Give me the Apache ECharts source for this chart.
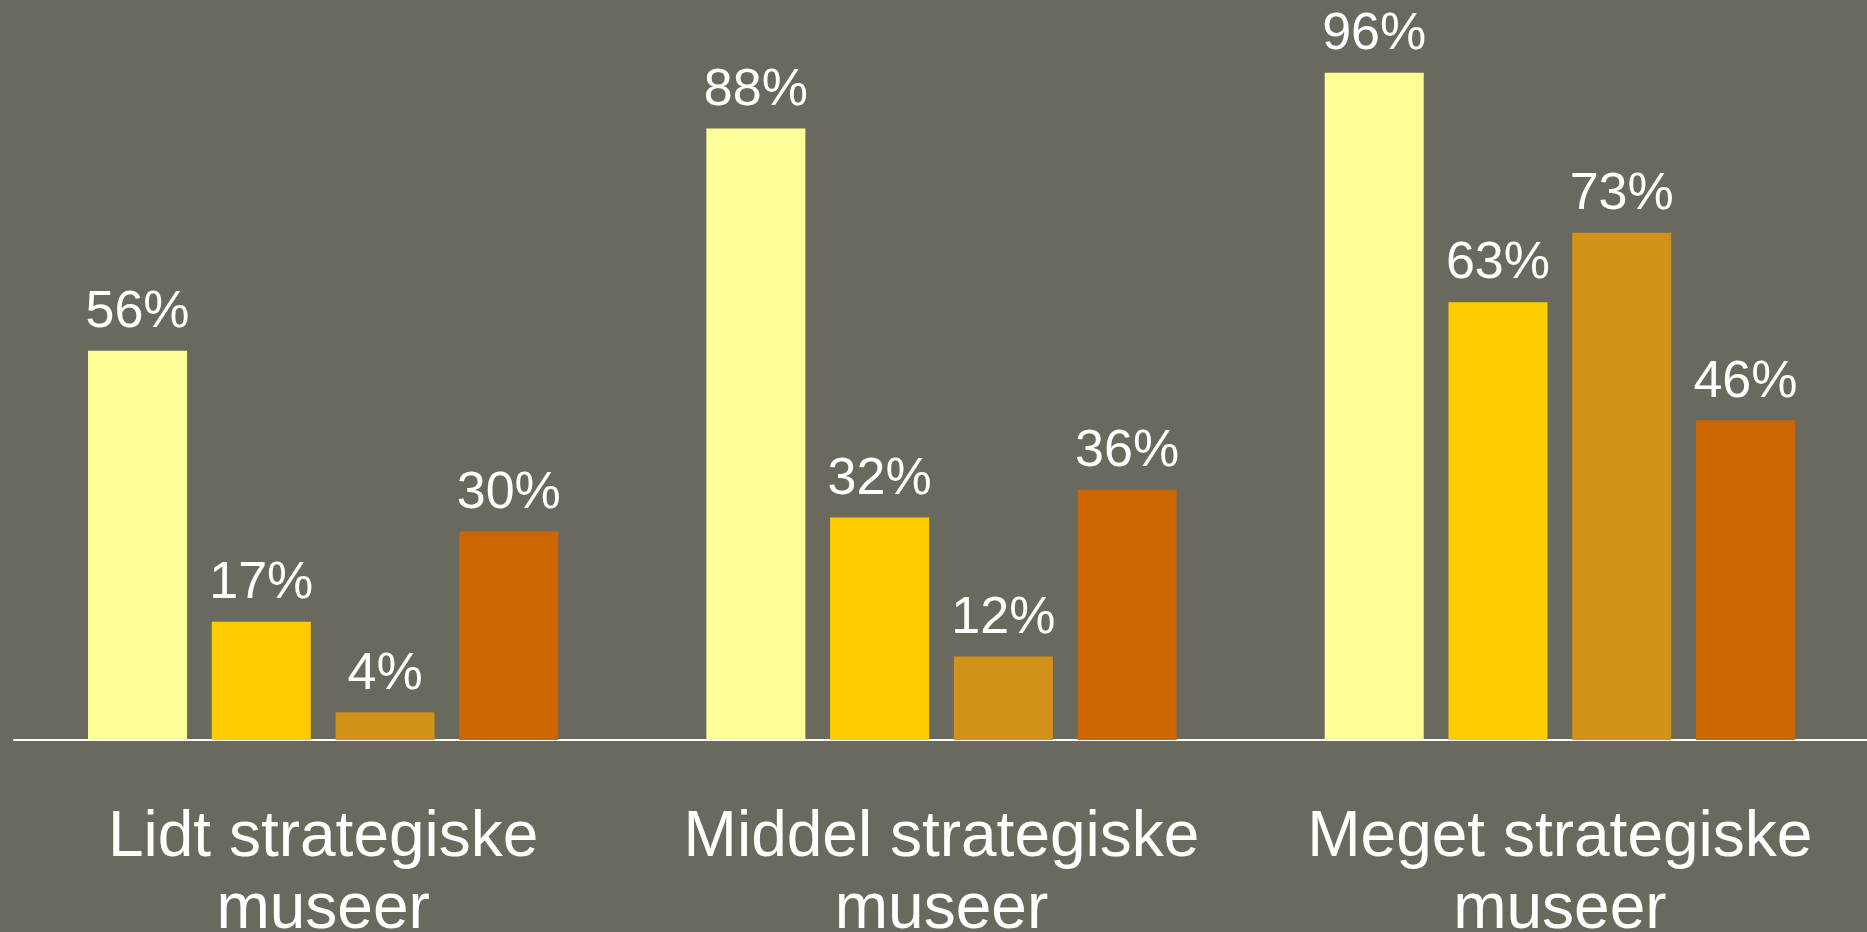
<!DOCTYPE html>
<html>
<head>
<meta charset="utf-8">
<style>
  html, body { margin: 0; padding: 0; background: #696A5D; }
  #chart { width: 1867px; height: 932px; }
</style>
<script src="https://cdn.jsdelivr.net/npm/echarts@6/dist/echarts.min.js"></script>
</head>
<body>
<div id="chart"></div>
<script>
// Museum groups along the x axis
const categories = ['Lidt strategiske\nmuseer', 'Middel strategiske\nmuseer', 'Meget strategiske\nmuseer'];

// Four measures per group, in percent
const seriesA = [56, 88, 96];
const seriesB = [17, 32, 63];
const seriesC = [4, 12, 73];
const seriesD = [30, 36, 46];

const seriesValues = [seriesA, seriesB, seriesC, seriesD];
const seriesColors = ['#FFFF99', '#FFCC00', '#D09219', '#CC6600'];

const chart = echarts.init(document.getElementById('chart'), null, { renderer: 'canvas' });

chart.setOption({
  backgroundColor: '#696A5D',
  animation: false,
  grid: {
    left: 14, width: 1855, top: 45, bottom: 192,
    containLabel: false,
    outerBoundsMode: 'none'
  },
  xAxis: {
    type: 'category',
    data: categories,
    axisLine: { show: true, lineStyle: { color: '#FFFFFF', width: 2 } },
    axisTick: { show: false },
    axisLabel: {
      color: '#FFFFFF',
      fontFamily: 'Liberation Sans, Arial, sans-serif',
      fontSize: 64,
      lineHeight: 72,
      margin: 62,
      interval: 0
    }
  },
  yAxis: {
    type: 'value',
    min: 0,
    max: 100,
    show: false,
    splitLine: { show: false }
  },
  series: seriesValues.map((vals, i) => ({
    type: 'bar',
    data: vals,
    barWidth: 99,
    barGap: '25%',
    itemStyle: { color: seriesColors[i] },
    label: {
      show: true,
      position: 'top',
      distance: 12,
      formatter: '{c}%',
      color: '#FFFFFF',
      fontFamily: 'Liberation Sans, Arial, sans-serif',
      fontSize: 52
    }
  }))
});
</script>
</body>
</html>
